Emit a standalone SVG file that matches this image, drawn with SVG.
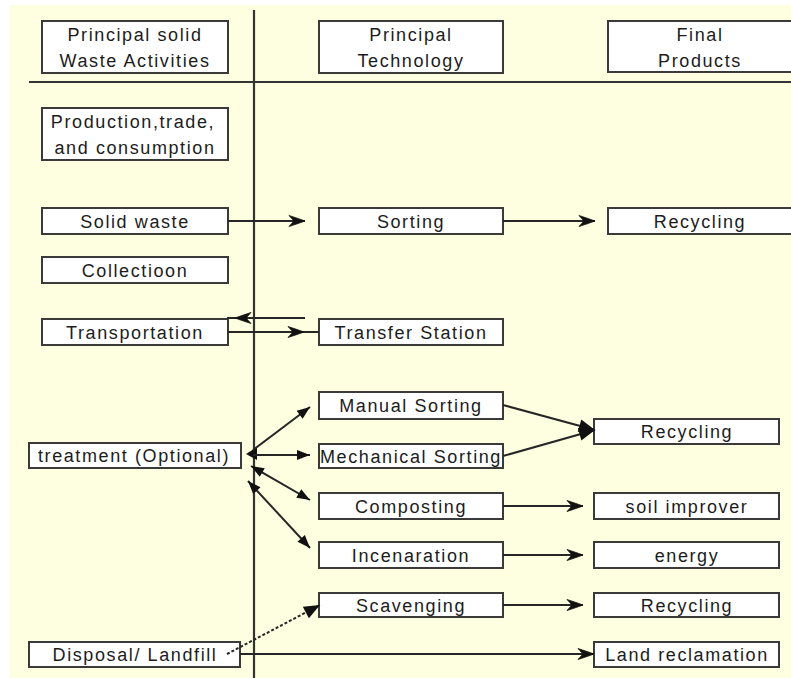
<svg xmlns="http://www.w3.org/2000/svg" width="791" height="678" viewBox="0 0 791 678">
<style>
.box{fill:#fff;stroke:#3a3a3a;stroke-width:2}
.t{font-family:"Liberation Sans",Arial,sans-serif;font-size:18px;letter-spacing:1.6px;fill:#1c1c1c;text-anchor:middle}
.c{fill:none;stroke:#262626;stroke-width:2}
.rule{stroke:#333;stroke-width:2.2}
</style>
<defs>
<marker id="barb" markerUnits="userSpaceOnUse" markerWidth="20" markerHeight="14" viewBox="-18 -7 20 14" refX="0" refY="0" orient="auto">
<path d="M0,0 L-7,-2.5 L-16,-5.5 L-11,0 L-16,5.5 L-7,2.5 Z" fill="#111" stroke="#111" stroke-width="0.8"/>
</marker>
<marker id="tri" markerUnits="userSpaceOnUse" markerWidth="18" markerHeight="14" viewBox="-16 -7 18 14" refX="0" refY="0" orient="auto-start-reverse">
<path d="M0,0 L-13,-5 L-13,5 Z" fill="#111"/>
</marker>
<marker id="tribig" markerUnits="userSpaceOnUse" markerWidth="20" markerHeight="16" viewBox="-18 -8 20 16" refX="0" refY="0" orient="auto">
<path d="M0,0 L-16,-6.5 L-16,6.5 Z" fill="#111"/>
</marker>
</defs>
<rect x="10" y="5" width="781" height="673" fill="#fefee0"/>
<g id="grid">
<line class="rule" x1="254" y1="10" x2="254" y2="678"/>
<line class="rule" x1="29" y1="82" x2="791" y2="82"/>
</g>
<g id="h1"><rect class="box" x="42" y="21" width="186" height="52"/><text class="t" x="135" y="41">Principal solid</text><text class="t" x="135" y="67">Waste Activities</text></g>
<g id="h2"><rect class="box" x="319" y="21" width="184" height="52"/><text class="t" x="411" y="41">Principal</text><text class="t" x="411" y="67">Technology</text></g>
<g id="h3"><rect class="box" x="608" y="21" width="190" height="51"/><text class="t" x="700" y="41">Final</text><text class="t" x="700" y="67">Products</text></g>
<g id="production"><rect class="box" x="42" y="108" width="186" height="52"/><text class="t" x="133" y="128">Production,trade,</text><text class="t" x="135" y="154">and consumption</text></g>
<g id="solidwaste"><rect class="box" x="42" y="208" width="186" height="26"/><text class="t" x="135" y="228">Solid waste</text></g>
<g id="collection"><rect class="box" x="42" y="257" width="186" height="26"/><text class="t" x="135" y="277">Collectioon</text></g>
<g id="transportation"><rect class="box" x="42" y="319" width="186" height="26"/><text class="t" x="135" y="339">Transportation</text></g>
<g id="sorting"><rect class="box" x="319" y="208" width="184" height="26"/><text class="t" x="411" y="228">Sorting</text></g>
<g id="recycling1"><rect class="box" x="608" y="208" width="190" height="26"/><text class="t" x="700" y="228">Recycling</text></g>
<g id="transfer"><rect class="box" x="319" y="319" width="184" height="26"/><text class="t" x="411" y="339">Transfer Station</text></g>
<g id="manual"><rect class="box" x="319" y="392" width="184" height="27"/><text class="t" x="411" y="412">Manual Sorting</text></g>
<g id="mechanical"><rect class="box" x="319" y="444" width="184" height="24"/><text class="t" x="411" y="463" textLength="182" lengthAdjust="spacingAndGlyphs">Mechanical Sorting</text></g>
<g id="composting"><rect class="box" x="319" y="493" width="184" height="26"/><text class="t" x="411" y="513">Composting</text></g>
<g id="incenaration"><rect class="box" x="319" y="542" width="184" height="26"/><text class="t" x="411" y="562">Incenaration</text></g>
<g id="scavenging"><rect class="box" x="319" y="593" width="184" height="24"/><text class="t" x="411" y="612">Scavenging</text></g>
<g id="treatment"><rect class="box" x="29" y="443" width="212" height="25"/><text class="t" x="134" y="462">treatment (Optional)</text></g>
<g id="disposal"><rect class="box" x="29" y="642" width="211" height="25"/><text class="t" x="135" y="661">Disposal/ Landfill</text></g>
<g id="recycling2"><rect class="box" x="594" y="419" width="185" height="25"/><text class="t" x="687" y="438">Recycling</text></g>
<g id="soil"><rect class="box" x="594" y="493" width="185" height="26"/><text class="t" x="687" y="513">soil improver</text></g>
<g id="energy"><rect class="box" x="594" y="542" width="185" height="26"/><text class="t" x="687" y="562">energy</text></g>
<g id="recycling3"><rect class="box" x="594" y="593" width="185" height="24"/><text class="t" x="687" y="612">Recycling</text></g>
<g id="land"><rect class="box" x="594" y="642" width="185" height="25"/><text class="t" x="687" y="661">Land reclamation</text></g>
<g id="connectors">
<path class="c" d="M228,221 L305,221" marker-end="url(#barb)"/>
<path class="c" d="M503,221 L595,221" marker-end="url(#barb)"/>
<path class="c" d="M305,318 L235,318 L227,318" marker-mid="url(#barb)"/>
<path class="c" d="M228,332 L304,332 L319,332" marker-mid="url(#barb)"/>
<polygon points="246,454 257,447 257,460" fill="#111"/>
<path class="c" d="M253,450 L310,407" marker-end="url(#tri)"/>
<path class="c" d="M253,455 L310,455" marker-end="url(#tri)"/>
<path class="c" d="M251,466 L310,500" marker-start="url(#tri)" marker-end="url(#tri)"/>
<path class="c" d="M248,481 L310,548" marker-start="url(#tri)" marker-end="url(#tri)"/>
<path class="c" d="M503,405 L595,430" marker-end="url(#tribig)"/>
<path class="c" d="M503,456 L595,430" marker-end="url(#tribig)"/>
<path class="c" d="M503,506 L583,506" marker-end="url(#barb)"/>
<path class="c" d="M503,555 L583,555" marker-end="url(#barb)"/>
<path class="c" d="M503,605 L583,605" marker-end="url(#barb)"/>
<path class="c" d="M240,654 L594,654" marker-end="url(#barb)"/>
<path class="c" d="M227,654 L320,605" stroke-dasharray="3,2" marker-end="url(#tribig)"/>
</g>
</svg>
